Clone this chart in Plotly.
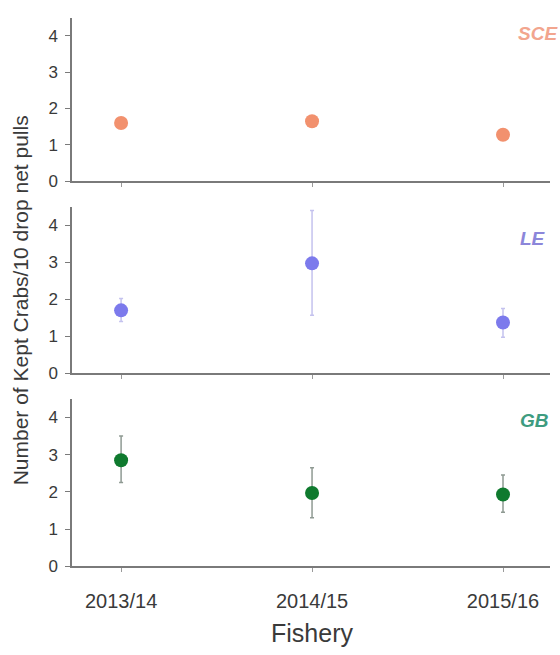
import plotly.graph_objects as go
from plotly.subplots import make_subplots

# Fishery seasons on the shared x axis
seasons = ["2013/14", "2014/15", "2015/16"]

# Mean kept crabs per 10 drop net pulls, with upper/lower error extents
sce_mean = [1.60, 1.65, 1.28]
sce_up = [0.08, 0.06, 0.07]
sce_down = [0.08, 0.06, 0.07]

le_mean = [1.70, 2.97, 1.37]
le_up = [0.32, 1.43, 0.38]
le_down = [0.30, 1.40, 0.40]

gb_mean = [2.85, 1.97, 1.93]
gb_up = [0.65, 0.68, 0.52]
gb_down = [0.60, 0.67, 0.48]

panels = [
    ("SCE", sce_mean, sce_up, sce_down, "#F2916E", "#f3b9a8", "#F2A58E"),
    ("LE", le_mean, le_up, le_down, "#7C7AEC", "#c4c2ee", "#8C86DA"),
    ("GB", gb_mean, gb_up, gb_down, "#0F7A2E", "#8f9a93", "#3E9C80"),
]

FONT = "Liberation Sans, Arial"

fig = make_subplots(rows=3, cols=1, shared_xaxes=True)

domains = [[0.7191, 0.9725], [0.4214, 0.6794], [0.1221, 0.3817]]
label_y = [34, 242, 427]
label_x = [516, 518, 518]

for i, (name, mean, up, down, mcol, ecol, tcol) in enumerate(panels, start=1):
    fig.add_trace(
        go.Scatter(
            x=list(range(len(seasons))),
            y=mean,
            mode="markers",
            marker=dict(color=mcol, size=14),
            error_y=dict(
                type="data", symmetric=False, array=up, arrayminus=down,
                color=ecol, thickness=1.5, width=2,
            ),
            showlegend=False,
            name=name,
        ),
        row=i, col=1,
    )
    fig.update_yaxes(
        range=[0, 4.5], tickvals=[0, 1, 2, 3, 4], domain=domains[i - 1],
        showline=True, linecolor="#7a7a7a", linewidth=1.5,
        ticks="outside", ticklen=5, tickcolor="#7a7a7a",
        ticklabelstandoff=4,
        showgrid=False, zeroline=False,
        tickfont=dict(family=FONT, size=17, color="#3a3a3a"),
        row=i, col=1,
    )
    fig.update_xaxes(
        range=[-0.257, 2.246], tickvals=[0, 1, 2], ticktext=seasons,
        domain=[0.1286, 0.9821],
        showline=True, linecolor="#7a7a7a", linewidth=1.5,
        ticks="outside", ticklen=4, tickcolor="#9a9a9a",
        ticklabelstandoff=12,
        showgrid=False, zeroline=False,
        showticklabels=(i == 3),
        tickfont=dict(family=FONT, size=20, color="#3a3a3a"),
        row=i, col=1,
    )
    fig.add_annotation(
        text="<b><i>" + name + "</i></b>",
        x=label_x[i - 1] / 560, y=1 - label_y[i - 1] / 655,
        xref="paper", yref="paper", xanchor="left", yanchor="middle",
        showarrow=False,
        font=dict(family=FONT, size=19, color=tcol),
    )

fig.add_annotation(
    text="Number of Kept Crabs/10 drop net pulls",
    x=20 / 560, y=1 - 305 / 655, xref="paper", yref="paper",
    textangle=-90, showarrow=False, xanchor="center", yanchor="middle",
    font=dict(family=FONT, size=21, color="#3a3a3a"),
)
fig.add_annotation(
    text="Fishery",
    x=312 / 560, y=1 - 643 / 655, xref="paper", yref="paper",
    showarrow=False, xanchor="center", yanchor="middle",
    font=dict(family=FONT, size=25, color="#3a3a3a"),
)

fig.update_layout(
    width=560, height=655,
    margin=dict(l=0, r=0, t=0, b=0),
    paper_bgcolor="white", plot_bgcolor="white",
)

fig.write_html("out.html")
